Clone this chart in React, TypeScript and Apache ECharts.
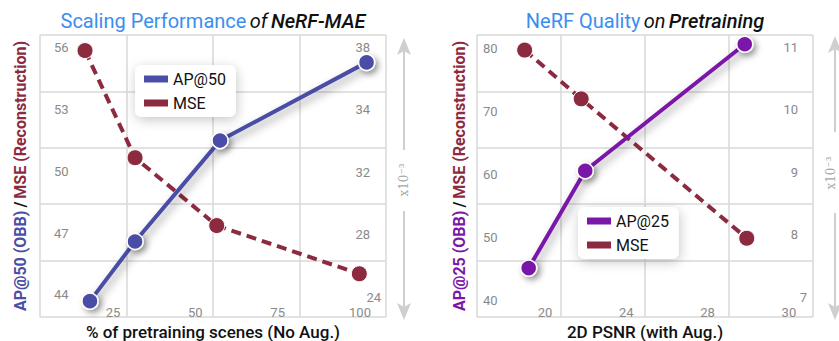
import React, { useEffect, useRef } from 'react';
import * as echarts from 'echarts';

// ---------- Left panel: Scaling Performance of NeRF-MAE ----------
const leftApX = [18, 31.7, 57.5, 102];          // % of pretraining scenes
const leftAp50 = [43.7, 46.6, 51.5, 55.3];       // AP@50 (OBB)
const leftMseX = [16.5, 31.7, 56.5, 99.8];
const leftMse = [37.8, 31.8, 28.0, 25.3];        // MSE x10^-3
const leftXTicks = [25, 50, 75, 100];
const leftApTicks = [56, 53, 50, 47, 44];
const leftMseTicks = ['38', '34', '32', '28', '24'];

// ---------- Right panel: NeRF Quality on Pretraining ----------
const rightApX = [19.2, 22.0, 29.9];             // 2D PSNR
const rightAp25 = [45.2, 60.6, 80.6];            // AP@25 (OBB)
const rightMseX = [19.0, 21.8, 30.0];
const rightMse = [10.95, 10.17, 7.94];           // MSE x10^-3
const rightXTicks = ['20', '24', '28', '30'];
const rightApTicks = [80, 70, 60, 50, 40];
const rightMseTicks = [11, 10, 9, 8, 7];

const BLUE = '#4a4ea5';
const RED = '#8c2b40';
const PURPLE = '#7a17a8';
const TITLE_BLUE = '#3a8ef0';
const GRID = '#d9d9d9';
const TICK = '#8a8a8a';
const FONT = 'Roboto';

const pairs = (xs: number[], ys: number[]) => xs.map((x, i) => [x, ys[i]]);

const hiddenParts = {
  axisLine: { show: false, onZero: false },
  axisTick: { show: false },
  splitLine: { show: false },
};

const gridAxis = (gridIndex: number, max: number) => ({
  gridIndex,
  type: 'value',
  min: 0,
  max,
  interval: 1,
  axisLine: { show: false, onZero: false },
  axisTick: { show: false },
  axisLabel: { show: false },
  splitLine: { show: true, lineStyle: { color: GRID, width: 1.5 } },
});

const tickLabel = { color: TICK, fontSize: 13, fontFamily: FONT };
// right-side labels: the last one sits a little further right, as in the reference
const rightRich = (shift: number) => ({
  n: { color: TICK, fontSize: 13, fontFamily: FONT, padding: [0, shift, 0, 0] },
  l: { color: TICK, fontSize: 13, fontFamily: FONT },
});

const xNameStyle = { fontSize: 17, lineHeight: 17, fontWeight: 500, color: '#111', fontFamily: FONT, verticalAlign: 'top' };

const lineSeries = (name: string, color: string, xi: number, yi: number, data: number[][], dashed: boolean) => ({
  type: 'line',
  name,
  xAxisIndex: xi,
  yAxisIndex: yi,
  data,
  symbol: 'circle',
  symbolSize: 16,
  z: dashed ? 2 : 3,
  lineStyle: dashed
    ? { color, width: 4, type: [10, 6] }
    : { color, width: 4, shadowColor: 'rgba(0,0,0,0.35)', shadowBlur: 8, shadowOffsetX: 3, shadowOffsetY: 4 },
  itemStyle: dashed
    ? { color, borderColor: '#fff', borderWidth: 1 }
    : { color, borderColor: '#fff', borderWidth: 1.5, shadowColor: 'rgba(0,0,0,0.4)', shadowBlur: 6, shadowOffsetX: 3, shadowOffsetY: 3 },
  emphasis: { disabled: true },
});

const yName = (first: string, color: string) => ({
  name: `{a|${first}} {b|/} {c|MSE (Reconstruction)}`,
  nameLocation: 'middle',
  nameRotate: 90,
  nameTextStyle: {
    rich: {
      a: { color, fontSize: 16, fontWeight: 'bold', fontFamily: FONT },
      b: { color: '#111', fontSize: 16, fontWeight: 'bold', fontFamily: FONT },
      c: { color: RED, fontSize: 16, fontWeight: 'bold', fontFamily: FONT },
    },
  },
});

const legend = (left: number, top: number, names: string[]) => ({
  orient: 'vertical',
  left,
  top,
  data: names,
  icon: 'rect',
  itemWidth: 24,
  itemHeight: 7,
  itemGap: 6,
  padding: [5, 10, 5, 9],
  backgroundColor: '#ffffff',
  borderRadius: 7,
  shadowColor: 'rgba(0,0,0,0.22)',
  shadowBlur: 12,
  shadowOffsetX: 1,
  shadowOffsetY: 3,
  selectedMode: false,
  itemStyle: { borderWidth: 0, shadowBlur: 0, shadowOffsetX: 0, shadowOffsetY: 0 },
  lineStyle: { shadowBlur: 0, shadowOffsetX: 0, shadowOffsetY: 0 },
  textStyle: { fontSize: 16, color: '#111', fontFamily: FONT, lineHeight: 18 },
});

const titleText = (x: number, a: string, b: string, c: string) => ({
  type: 'text',
  x,
  y: 21,
  style: {
    text: `{a|${a}} {b|${b}} {c|${c}}`,
    align: 'center',
    verticalAlign: 'middle',
    textAlign: 'center',
    textVerticalAlign: 'middle',
    rich: {
      a: { fill: TITLE_BLUE, fontSize: 20, fontFamily: FONT },
      b: { fill: '#111', fontSize: 20, fontFamily: FONT, fontStyle: 'italic' },
      c: { fill: '#111', fontSize: 20, fontFamily: FONT, fontStyle: 'italic', fontWeight: 500 },
    },
  },
});

const arrow = (x: number, textX: number, topTip: number, upEnd: number, textY: number, downStart: number, bottomTip: number) => {
  const c = '#cfcfcf';
  return [
    { type: 'polygon', shape: { points: [[x, topTip], [x - 7, topTip + 17], [x, topTip + 13], [x + 7, topTip + 17]] }, style: { fill: c } },
    { type: 'line', shape: { x1: x, y1: topTip + 13, x2: x, y2: upEnd }, style: { stroke: c, lineWidth: 2 } },
    {
      type: 'text', x: textX, y: textY, rotation: Math.PI / 2,
      style: { text: 'x10\u207B\u00B3', fill: '#a8a8a8', fontSize: 12, fontFamily: 'DejaVu Serif', align: 'center', verticalAlign: 'middle', textAlign: 'center', textVerticalAlign: 'middle' },
    },
    { type: 'line', shape: { x1: x, y1: downStart, x2: x, y2: bottomTip - 13 }, style: { stroke: c, lineWidth: 2 } },
    { type: 'polygon', shape: { points: [[x, bottomTip], [x - 7, bottomTip - 17], [x, bottomTip - 13], [x + 7, bottomTip - 17]] }, style: { fill: c } },
  ];
};

export default function App() {
  const ref = useRef<HTMLDivElement>(null);

  useEffect(() => {
    if (!ref.current) return;
    const chart = echarts.init(ref.current, null, { renderer: 'svg' });

    const lastLeftMse = leftMseTicks.length - 1;
    const lastRightMse = rightMseTicks[rightMseTicks.length - 1];

    const option: any = {
      animation: false,
      backgroundColor: '#ffffff',
      textStyle: { fontFamily: FONT },
      grid: [
        { left: 40, top: 35, width: 346, height: 282, outerBoundsMode: 'none', containLabel: false },
        { left: 477, top: 35, width: 336, height: 282, outerBoundsMode: 'none', containLabel: false },
      ],
      xAxis: [
        gridAxis(0, 4),
        {
          gridIndex: 0, type: 'value', min: 2.833, max: 107.9, position: 'bottom',
          ...hiddenParts,
          axisLabel: { ...tickLabel, inside: true, margin: -2, customValues: leftXTicks },
          name: '% of pretraining scenes (No Aug.)',
          nameLocation: 'middle',
          nameGap: 5,
          nameTextStyle: xNameStyle,
        },
        gridAxis(1, 4),
        { gridIndex: 1, type: 'value', min: 16.64, max: 33.28, show: false, position: 'bottom', axisLine: { onZero: false } },
        {
          gridIndex: 1, type: 'value', min: -0.836, max: 3.296, position: 'bottom',
          ...hiddenParts,
          axisLabel: {
            ...tickLabel, inside: true, margin: -2,
            customValues: rightXTicks.map((_, i) => i),
            formatter: (v: number) => rightXTicks[Math.round(v)] ?? '',
          },
          name: '2D PSNR (with Aug.)',
          nameLocation: 'middle',
          nameGap: 5,
          nameTextStyle: xNameStyle,
        },
      ],
      yAxis: [
        gridAxis(0, 5),
        {
          gridIndex: 0, type: 'value', min: 42.93, max: 56.63, position: 'left',
          ...hiddenParts,
          axisLabel: { ...tickLabel, inside: true, margin: 14, customValues: leftApTicks },
          ...yName('AP@50 (OBB)', BLUE),
          nameGap: 12,
        },
        { gridIndex: 0, type: 'value', min: 22.88, max: 38.672, show: false, position: 'right', axisLine: { onZero: false } },
        {
          gridIndex: 0, type: 'value', inverse: true, min: -0.192, max: 4.32, position: 'right',
          ...hiddenParts,
          axisLabel: {
            ...tickLabel, inside: true, margin: 5,
            customValues: leftMseTicks.map((_, i) => i),
            formatter: (v: number) => {
              const i = Math.round(v);
              const t = leftMseTicks[i] ?? '';
              return i === lastLeftMse ? `{l|${t}}` : `{n|${t}}`;
            },
            rich: rightRich(11),
          },
        },
        gridAxis(1, 5),
        {
          gridIndex: 1, type: 'value', min: 37.47, max: 82.06, position: 'left',
          ...hiddenParts,
          axisLabel: { ...tickLabel, inside: true, margin: 6, customValues: rightApTicks },
          ...yName('AP@25 (OBB)', PURPLE),
          nameGap: 10,
        },
        {
          gridIndex: 1, type: 'value', min: 6.68, max: 11.192, position: 'right',
          ...hiddenParts,
          axisLabel: {
            ...tickLabel, inside: true, margin: 6,
            customValues: rightMseTicks,
            formatter: (v: number) => (v === lastRightMse ? `{l|${v}}` : `{n|${v}}`),
            rich: rightRich(9),
          },
        },
      ],
      legend: [
        legend(135, 65, ['AP@50', 'MSE']),
        legend(578, 207, ['AP@25', 'MSE']),
      ],
      graphic: [
        titleText(213, 'Scaling Performance', 'of', 'NeRF-MAE'),
        titleText(645, 'NeRF Quality', 'on', 'Pretraining'),
        ...arrow(404, 404, 38, 150, 180, 211, 320),
        ...arrow(835, 831, 36, 132, 173, 213, 320),
      ],
      series: [
        lineSeries('MSE', RED, 1, 2, pairs(leftMseX, leftMse), true),
        lineSeries('AP@50', BLUE, 1, 1, pairs(leftApX, leftAp50), false),
        lineSeries('MSE', RED, 3, 6, pairs(rightMseX, rightMse), true),
        lineSeries('AP@25', PURPLE, 3, 5, pairs(rightApX, rightAp25), false),
      ],
    };

    chart.setOption(option);
    return () => chart.dispose();
  }, []);

  return (
    <div
      ref={ref}
      style={{ position: 'fixed', left: 0, top: 0, width: 839, height: 341, background: '#fff' }}
    />
  );
}
